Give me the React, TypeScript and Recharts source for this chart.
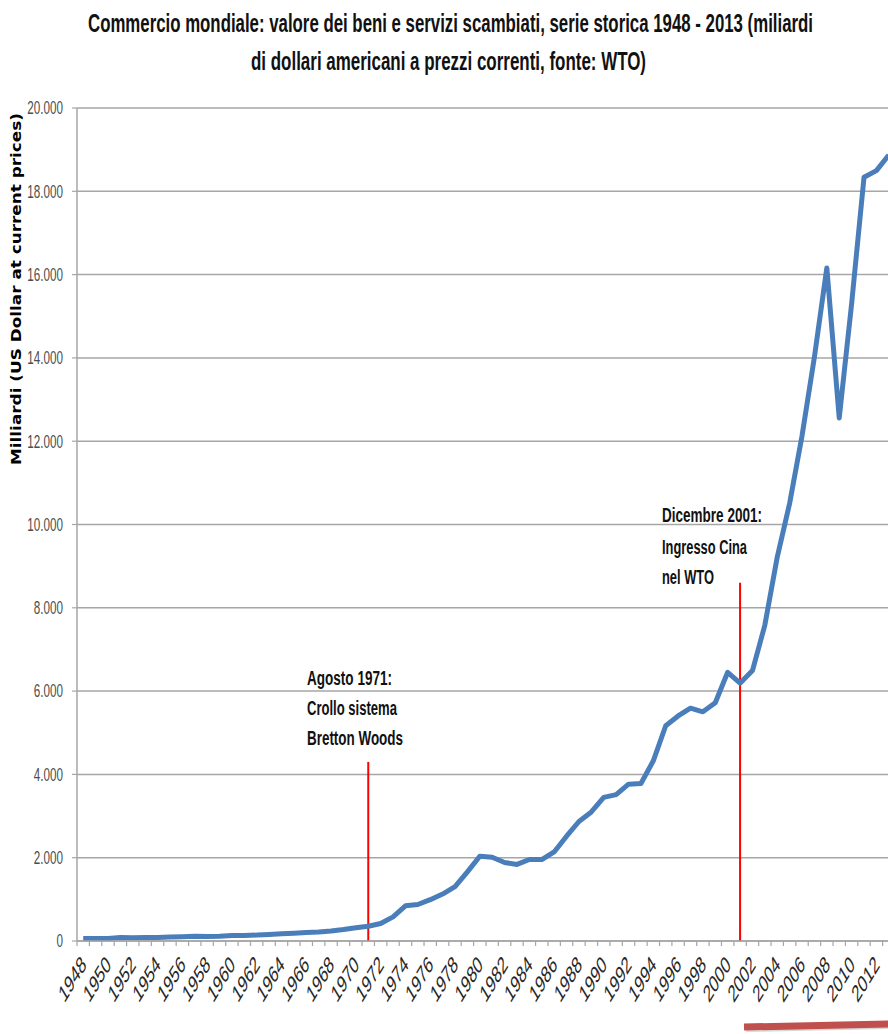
import React from 'react';
import { LineChart, Line, XAxis, YAxis, CartesianGrid, ReferenceLine } from 'recharts';

const years = [
  '1948', '1949', '1950', '1951', '1952', '1953', '1954', '1955', '1956', '1957',
  '1958', '1959', '1960', '1961', '1962', '1963', '1964', '1965', '1966', '1967',
  '1968', '1969', '1970', '1971', '1972', '1973', '1974', '1975', '1976', '1977',
  '1978', '1979', '1980', '1981', '1982', '1983', '1984', '1985', '1986', '1987',
  '1988', '1989', '1990', '1991', '1992', '1993', '1994', '1995', '1996', '1997',
  '1998', '1999', '2000', '2001', '2002', '2003', '2004', '2005', '2006', '2007',
  '2008', '2009', '2010', '2011', '2012', '2013',
];

const tradeValues = [
  59, 59, 62, 82, 80, 84, 87, 95, 104, 113,
  109, 116, 130, 135, 142, 157, 174, 188, 206, 216,
  242, 276, 317, 354, 419, 579, 844, 877, 992, 1128,
  1307, 1659, 2036, 2010, 1883, 1838, 1956, 1954, 2138, 2516,
  2869, 3098, 3449, 3515, 3766, 3782, 4326, 5168, 5403, 5591,
  5503, 5719, 6452, 6191, 6492, 7586, 9218, 10509, 12131, 14023,
  16160, 12555, 15301, 18338, 18496, 18870,
];

const yTicks = [0, 2000, 4000, 6000, 8000, 10000, 12000, 14000, 16000, 18000, 20000];

const events = [
  { year: '1971', top: 4300, lines: ['Agosto 1971:', 'Crollo sistema', 'Bretton Woods'] },
  { year: '2001', top: 8600, lines: ['Dicembre 2001:', 'Ingresso  Cina', 'nel WTO'] },
];

const titleLines = [
  'Commercio mondiale: valore dei beni e servizi scambiati, serie storica 1948 - 2013 (miliardi',
  'di dollari americani a prezzi correnti, fonte: WTO)',
];

const yAxisTitle = 'Milliardi (US Dollar at current prices)';

const data = years.map((y, i) => ({ year: y, value: tradeValues[i] }));

const NARROW = "'Liberation Sans Narrow', 'Liberation Sans', Arial, sans-serif";
const CHART_W = 900;
const CHART_H = 1034;
const MARGIN = { top: 108, right: 5, left: 10, bottom: 0 };
const Y_AXIS_W = 67;
const PLOT_W = CHART_W - MARGIN.left - MARGIN.right - Y_AXIS_W;
const BAND = PLOT_W / years.length;
const GRID = '#a6a6a6';

const fmt = (v: number) => (v === 0 ? '0' : v.toLocaleString('de-DE'));

function XTick(props: any) {
  const { x, y, index, payload } = props;
  const bx = x - BAND / 2;
  return (
    <g>
      <line x1={bx} y1={y} x2={bx} y2={y + 5} stroke={GRID} strokeWidth={1.2} />
      {index % 2 === 0 && (
        <text
          transform={`translate(${x + 4},${y + 25}) scale(1,1.65) rotate(-45)`}
          textAnchor="end"
          fontSize={14.5}
          fill="#262626"
          fontFamily={NARROW}
        >
          {payload.value}
        </text>
      )}
    </g>
  );
}

function YTick(props: any) {
  const { x, y, payload } = props;
  return (
    <text
      transform={`translate(${x},${y}) scale(0.667,1)`}
      textAnchor="end"
      dy="0.36em"
      fontSize={17.5}
      fill="#4d4d4d"
      fontFamily={NARROW}
    >
      {fmt(payload.value)}
    </text>
  );
}

const titlePos = [
  { x: 88, y: 32, len: 725 },
  { x: 251, y: 70, len: 395 },
];

const annotationPos = [
  { x: 307, ys: [685, 715, 745], lens: [85, 90, 96] },
  { x: 662, ys: [522, 554, 584], lens: [100, 85, 52] },
];

export default function App() {
  return (
    <div style={{ position: 'absolute', left: 0, top: 0, width: 888, height: 1034, overflow: 'hidden', background: '#fff' }}>
      <LineChart width={CHART_W} height={CHART_H} data={data} margin={MARGIN}>
        <CartesianGrid vertical={false} stroke={GRID} strokeWidth={1.5} strokeDasharray="" />
        <XAxis
          dataKey="year"
          scale="band"
          interval={0}
          height={CHART_H - 941}
          tickSize={0}
          tickMargin={0}
          tickLine={false}
          axisLine={{ stroke: GRID, strokeWidth: 1.5 }}
          tick={<XTick />}
        />
        <YAxis
          width={Y_AXIS_W}
          domain={[0, 20000]}
          ticks={yTicks}
          interval={0}
          tickSize={5}
          tickMargin={9}
          tickLine={{ stroke: GRID, strokeWidth: 1.2 }}
          axisLine={{ stroke: GRID, strokeWidth: 1.5 }}
          tick={<YTick />}
        />
        {events.map((e) => (
          <ReferenceLine
            key={e.year}
            segment={[{ x: e.year, y: 0 }, { x: e.year, y: e.top }]}
            stroke="#ff0000"
            strokeWidth={2}
            ifOverflow="visible"
          />
        ))}
        <Line
          type="linear"
          dataKey="value"
          stroke="#4a7ebb"
          strokeWidth={5}
          dot={false}
          activeDot={false}
          strokeLinejoin="round"
          isAnimationActive={false}
        />
      </LineChart>
      <svg width={888} height={1034} style={{ position: 'absolute', left: 0, top: 0, pointerEvents: 'none' }}>
        {titleLines.map((t, i) => (
          <text
            key={i}
            transform={`translate(${titlePos[i].x},${titlePos[i].y}) scale(1,1.5)`}
            x={0}
            y={0}
            textLength={titlePos[i].len}
            lengthAdjust="spacingAndGlyphs"
            fontSize={16.7}
            fontWeight="bold"
            fontFamily={NARROW}
            fill="#111"
          >
            {t}
          </text>
        ))}
        <text
          transform="translate(21,289) rotate(-90)"
          textAnchor="middle"
          textLength={352}
          lengthAdjust="spacingAndGlyphs"
          fontSize={13.5}
          fontWeight="bold"
          fontFamily="'DejaVu Sans', Verdana, sans-serif"
          fill="#000"
        >
          {yAxisTitle}
        </text>
        {events.map((e, k) =>
          e.lines.map((t, j) => (
            <text
              key={`${k}-${j}`}
              x={annotationPos[k].x}
              y={annotationPos[k].ys[j]}
              textLength={annotationPos[k].lens[j]}
              lengthAdjust="spacingAndGlyphs"
              fontSize={20}
              fontWeight="bold"
              fontFamily={NARROW}
              fill="#111"
            >
              {t}
            </text>
          ))
        )}
        <line x1={746} y1={1030} x2={890} y2={1027} stroke="#d9d9d9" strokeWidth={4} />
        <line x1={744} y1={1027} x2={890} y2={1024} stroke="#c0504d" strokeWidth={7} />
      </svg>
    </div>
  );
}
